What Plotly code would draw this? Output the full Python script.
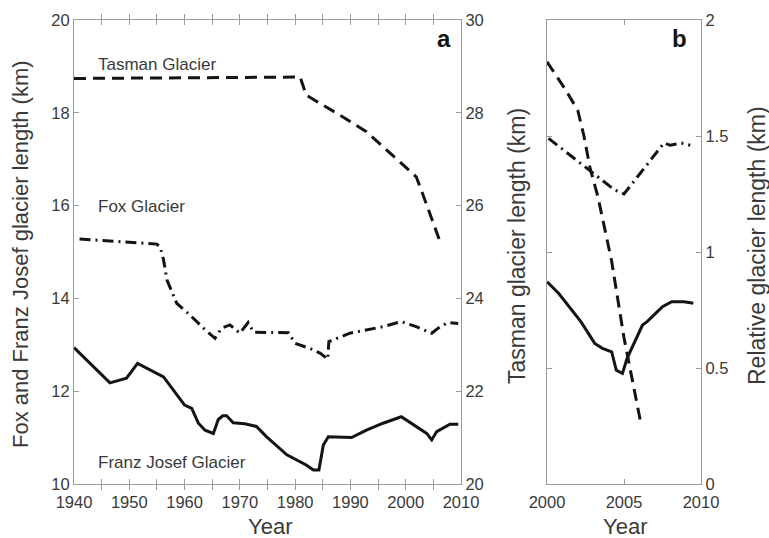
import plotly.graph_objects as go

# ---- Panel a: glacier lengths 1940-2010 ----
fj_years = [1940, 1946.5, 1949.5, 1951.5, 1956.2, 1960, 1961.3, 1962.5, 1963.7, 1965.2,
            1966.1, 1966.9, 1967.6, 1968.8, 1970.9, 1973, 1974.8, 1978.5, 1982, 1983.3,
            1984.3, 1985.1, 1986, 1990.2, 1992.9, 1995.9, 1999.2, 2001.4, 2003.8, 2004.7,
            2005.6, 2008, 2009.5]
fj_len = [12.94, 12.18, 12.28, 12.60, 12.31, 11.70, 11.63, 11.31, 11.16, 11.09,
          11.39, 11.47, 11.47, 11.32, 11.30, 11.24, 11.02, 10.63, 10.41, 10.30,
          10.30, 10.84, 11.02, 11.00, 11.16, 11.31, 11.45, 11.27, 11.09, 10.95,
          11.13, 11.29, 11.29]

fox_years = [1941, 1955, 1955.6, 1956.2, 1956.8, 1958, 1958.6, 1961, 1963.4, 1965.5,
             1966.7, 1968.2, 1969.4, 1970, 1971.5, 1972.5, 1978.8, 1980, 1982.7, 1984.5,
             1985.9, 1986.1, 1989.9, 1995.9, 1999.2, 2001.9, 2004.7, 2006.2, 2007.7, 2009.5]
fox_len = [15.28, 15.17, 15.10, 14.83, 14.40, 14.04, 13.89, 13.64, 13.36, 13.14,
           13.36, 13.43, 13.32, 13.25, 13.48, 13.27, 13.26, 13.03, 12.92, 12.82,
           12.69, 13.07, 13.25, 13.39, 13.50, 13.39, 13.25, 13.39, 13.48, 13.46]

tas_years = [1940, 1980.9, 1982, 1988.1, 1992.9, 2001.9, 2002.8, 2004.4, 2006.1]
tas_len = [28.74, 28.77, 28.38, 27.95, 27.59, 26.62, 26.34, 25.83, 25.26]

# ---- Panel b: relative glacier lengths 2000-2010 ----
fj_b_years = [2000, 2000.75, 2002.2, 2003.1, 2003.6, 2004.2, 2004.5, 2004.9, 2005.2,
              2006.2, 2006.5, 2007.5, 2008.1, 2008.9, 2009.5]
fj_b_len = [0.872, 0.822, 0.70, 0.606, 0.585, 0.57, 0.49, 0.477, 0.542,
            0.685, 0.70, 0.764, 0.786, 0.786, 0.779]

fox_b_years = [2000.1, 2002.6, 2003.0, 2004.4, 2005.0, 2005.9, 2007.6, 2008.0, 2008.7, 2009.3]
fox_b_len = [1.49, 1.36, 1.34, 1.267, 1.25, 1.325, 1.47, 1.46, 1.47, 1.46]

tas_b_years = [2000, 2001.2, 2002, 2002.4, 2002.8, 2003.3, 2004.2, 2005, 2006.1]
tas_b_len = [1.82, 1.70, 1.61, 1.50, 1.36, 1.24, 0.96, 0.63, 0.26]

a_xticks = list(range(1940, 2011, 5))
a_xlabels = [str(y) if y % 10 == 0 else "" for y in a_xticks]

INK = "#141414"
AXIS = "#9a9a9a"
TXT = "#3a3a3a"
FONT = "Liberation Sans"
DASH = "12px,7px"
DASHDOT = "11px,5px,2px,5px"

fig = go.Figure()

def line(x, y, dash, xa, ya):
    fig.add_trace(go.Scatter(x=x, y=y, mode="lines", xaxis=xa, yaxis=ya,
                             line=dict(color=INK, width=3, dash=dash),
                             showlegend=False, hoverinfo="skip"))

line(fj_years, fj_len, "solid", "x", "y")
line(fox_years, fox_len, DASHDOT, "x", "y")
line(tas_years, tas_len, DASH, "x", "y2")
line(fj_b_years, fj_b_len, "solid", "x2", "y3")
line(fox_b_years, fox_b_len, DASHDOT, "x2", "y3")
line(tas_b_years, tas_b_len, DASH, "x2", "y3")

W, H = 769, 538
ax_common = dict(showline=True, linecolor=AXIS, linewidth=1.2, ticks="inside",
                 ticklen=5, tickcolor=AXIS, showgrid=False, zeroline=False, automargin=False,
                 tickfont=dict(family=FONT, size=16.5, color=TXT))

fig.update_layout(
    width=W, height=H,
    margin=dict(l=0, r=0, t=20, b=54, autoexpand=False),
    showlegend=False,
    paper_bgcolor="white", plot_bgcolor="white",
    xaxis=dict(domain=[74 / W, 461 / W], range=[1940, 2010], anchor="y",
               tickvals=a_xticks, ticktext=a_xlabels, mirror="allticks",
               ticklabelstandoff=3, **ax_common),
    yaxis=dict(range=[10, 20], tickvals=[10, 12, 14, 16, 18, 20], anchor="x", **ax_common),
    yaxis2=dict(range=[20, 30], tickvals=[20, 22, 24, 26, 28, 30], overlaying="y",
                side="right", anchor="x", **ax_common),
    xaxis2=dict(domain=[547 / W, 701 / W], range=[2000, 2010], anchor="y3",
                tickvals=[2000, 2005, 2010], mirror="allticks",
                ticklabelstandoff=3, **ax_common),
    yaxis3=dict(range=[0, 2], tickvals=[0, 0.5, 1, 1.5, 2], ticktext=["0", "0.5", "1", "1.5", "2"],
                side="right", anchor="x2", mirror="allticks", **ax_common),
)

def note(text, x, y, size=23, angle=0, bold=False, xanchor="center", xref="paper", yref="paper"):
    fig.add_annotation(text=f"<b>{text}</b>" if bold else text, x=x, y=y, xref=xref, yref=yref,
                       showarrow=False, textangle=angle, xanchor=xanchor, yanchor="middle",
                       font=dict(family=FONT, size=size, color=INK if bold else TXT))

def px(xp):
    return xp / W

def py(yp):
    return 1 - (yp - 20) / (H - 20 - 54)

# axis titles
note("Fox and Franz Josef glacier length (km)", px(20), py(254), size=22, angle=-90)
note("Tasman glacier length (km)", px(517), py(246), angle=-90)
note("Relative glacier length (km)", px(757), py(246), angle=-90)
note("Year", px(270), py(526), size=22)
note("Year", px(625), py(526), size=22)

# panel letters
note("a", px(444), py(38), size=24, bold=True)
note("b", px(679), py(38), size=24, bold=True)

# series labels
note("Tasman Glacier", 1944, 19.05, size=17, xanchor="left", xref="x", yref="y")
note("Fox Glacier", 1944, 15.99, size=17, xanchor="left", xref="x", yref="y")
note("Franz Josef Glacier", 1944, 10.47, size=17, xanchor="left", xref="x", yref="y")

fig.write_html("out.html")
